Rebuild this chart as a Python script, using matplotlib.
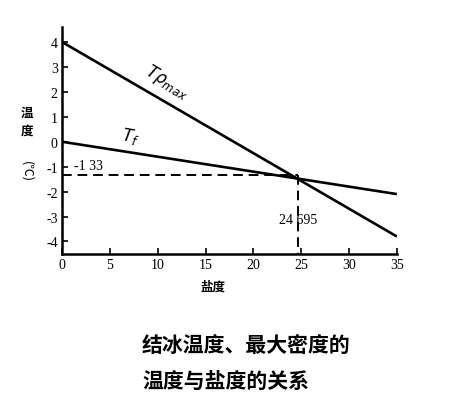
import matplotlib
matplotlib.use("Agg")
import matplotlib.pyplot as plt

# Data
salinity = [0, 35]
t_rho_max = [4.0, -3.8]
t_freeze = [0.0, -2.1]
cross_s = 24.695
cross_t = -1.33
xticks = [0, 5, 10, 15, 20, 25, 30, 35]
yticks = [4, 3, 2, 1, 0, -1, -2, -3, -4]

cjk = ['Noto Sans CJK SC', 'DejaVu Sans']
serif = ['Liberation Serif', 'DejaVu Serif']

fig = plt.figure(figsize=(4.51, 4.06), dpi=100)
ax = fig.add_axes([0.1375, 0.372, 0.7425, 0.559])

ax.plot(salinity, t_rho_max, color='black', lw=1.9, solid_capstyle='butt')
ax.plot(salinity, t_freeze, color='black', lw=1.9, solid_capstyle='butt')
ax.plot([0, cross_s], [cross_t, cross_t], color='black', lw=1.4, ls=(0, (5, 3)))
ax.plot([cross_s, cross_s], [cross_t, -4.5], color='black', lw=1.4, ls=(0, (5, 3)))

ax.set_xlim(0, 35)
ax.set_ylim(-4.5, 4.6)
ax.set_xticks(xticks)
ax.set_yticks(yticks)
ax.set_xticklabels([str(v) for v in xticks], fontfamily=serif, fontsize=10)
ax.set_yticklabels([str(v) for v in yticks], fontfamily=serif, fontsize=10)
ax.tick_params(direction='in', length=4, width=1.2, pad=3)
for s in ['top', 'right']:
    ax.spines[s].set_visible(False)
for s in ['left', 'bottom']:
    ax.spines[s].set_linewidth(1.8)

ax.text(11.0, 2.4, r'$T\rho_{max}$', rotation=-31, fontsize=12, ha='center', va='center')
ax.text(7.2, 0.25, r'$T_f$', rotation=-10, fontsize=12, ha='center', va='center')
ax.text(1.3, -0.95, '-1 33', fontfamily=serif, fontsize=10, ha='left', va='center')
ax.text(cross_s, -3.1, '24 695', fontfamily=serif, fontsize=10, ha='center', va='center')

fig.text(213/451, 1 - 287/406, '盐度', fontfamily=cjk, fontsize=9, fontweight='bold', ha='center', va='center')
fig.text(27/451, 1 - 113/406, '温', fontfamily=cjk, fontsize=9, fontweight='bold', ha='center', va='center')
fig.text(27/451, 1 - 131/406, '度', fontfamily=cjk, fontsize=9, fontweight='bold', ha='center', va='center')
fig.text(27/451, 1 - 172/406, '(℃)', fontfamily=cjk, fontsize=9, rotation=270, ha='center', va='center')

fig.text(142/451, 1 - 346/406, '结冰温度、最大密度的', fontfamily=cjk, fontsize=15, fontweight='bold', ha='left', va='center')
fig.text(142/451, 1 - 381/406, '温度与盐度的关系', fontfamily=cjk, fontsize=15, fontweight='bold', ha='left', va='center')

fig.savefig('out.png', dpi=100)
